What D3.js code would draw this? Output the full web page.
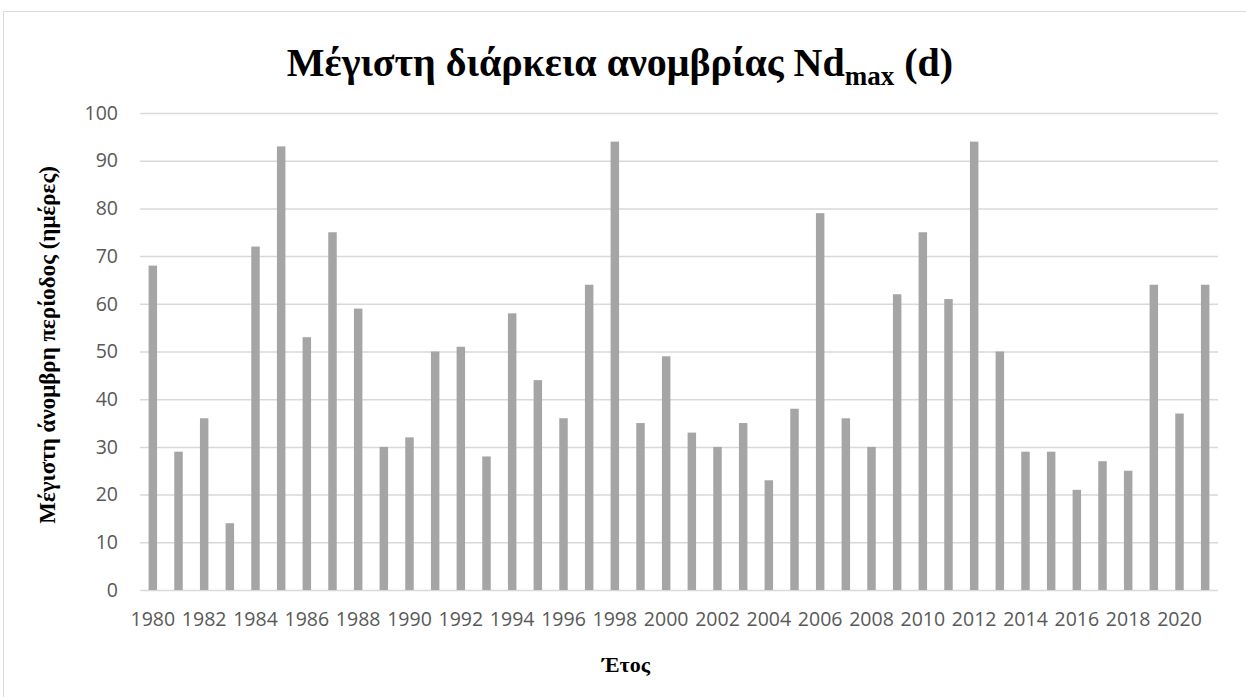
<!DOCTYPE html>
<html>
<head>
<meta charset="utf-8">
<script src="https://cdn.jsdelivr.net/npm/d3@7"></script>
<style>
body { margin: 0; background: #fff; }
</style>
</head>
<body>
<script>
// data
const years = d3.range(1980, 2022);
const days = [68, 29, 36, 14, 72, 93, 53, 75, 59, 30, 32, 50, 51, 28, 58, 44, 36, 64, 94, 35,
  49, 33, 30, 35, 23, 38, 79, 36, 30, 62, 75, 61, 94, 50, 29, 29, 21, 27, 25, 64, 37, 64];
const yTicks = d3.range(0, 101, 10);

const width = 1246, height = 697;
const margin = {top: 113, right: 28, bottom: 107, left: 140};

let svg = d3.select("body").append("svg")
  .attr("width", width)
  .attr("height", height);

// chart border (cut off on the right and bottom as in the source)
svg.append("rect")
  .attr("x", 3.5).attr("y", 11.5)
  .attr("width", width + 10).attr("height", height + 10)
  .attr("fill", "#fff").attr("stroke", "#d9d9d9");

let x = d3.scaleBand()
  .domain(years)
  .range([margin.left, width - margin.right])
  .paddingInner(0.67).paddingOuter(0.335);

let y = d3.scaleLinear()
  .domain([0, 100])
  .range([height - margin.bottom, margin.top]);

// gridlines
svg.append("g")
  .selectAll("line")
  .data(yTicks)
  .enter().append("line")
  .attr("x1", margin.left).attr("x2", width - margin.right)
  .attr("y1", d => y(d) + 0.5).attr("y2", d => y(d) + 0.5)
  .attr("stroke", "#d9d9d9").attr("stroke-width", 1.5);

// bars
svg.append("g")
  .selectAll("rect")
  .data(days)
  .enter().append("rect")
  .attr("x", (d, i) => x(years[i]))
  .attr("width", x.bandwidth())
  .attr("y", d => y(d))
  .attr("height", d => y(0) - y(d))
  .attr("fill", "#a5a5a5");

// y axis
let yAxis = svg.append("g")
  .attr("transform", `translate(${margin.left},0)`)
  .call(d3.axisLeft(y).tickValues(yTicks).tickSize(0).tickPadding(22));
yAxis.select(".domain").remove();
yAxis.selectAll("text")
  .attr("font-family", "'Open Sans', sans-serif")
  .attr("font-size", 19.5).attr("fill", "#595959");

// x axis
let xAxis = svg.append("g")
  .attr("transform", `translate(0,${y(0)})`)
  .call(d3.axisBottom(x).tickValues(years.filter(d => d % 2 === 0)).tickSize(0).tickPadding(22));
xAxis.select(".domain").remove();
xAxis.selectAll("text")
  .attr("font-family", "'Open Sans', sans-serif")
  .attr("font-size", 19.5).attr("fill", "#595959");

// title
let title = svg.append("text")
  .attr("x", 620).attr("y", 76)
  .attr("text-anchor", "middle")
  .attr("font-family", "'Liberation Serif', 'Times New Roman', serif")
  .attr("font-weight", "bold").attr("fill", "#000")
  .attr("font-size", 40);
title.append("tspan").text("Μέγιστη διάρκεια ανομβρίας Nd");
title.append("tspan").attr("font-size", 27).attr("dy", 9).text("max");
title.append("tspan").attr("dy", -9).text(" (d)");

// axis titles
svg.append("text")
  .attr("x", 626).attr("y", 672)
  .attr("text-anchor", "middle")
  .attr("font-family", "'Liberation Serif', 'Times New Roman', serif")
  .attr("font-weight", "bold").attr("font-size", 22)
  .text("Έτος");

svg.append("text")
  .attr("transform", `translate(55,345) rotate(-90)`)
  .attr("text-anchor", "middle")
  .attr("font-family", "'Liberation Serif', 'Times New Roman', serif")
  .attr("font-weight", "bold").attr("font-size", 23)
  .text("Μέγιστη άνομβρη περίοδος (ημέρες)");
</script>
</body>
</html>
